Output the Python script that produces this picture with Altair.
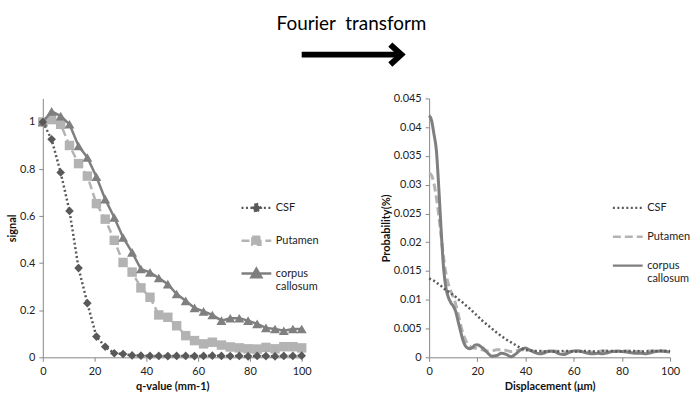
import altair as alt
import pandas as pd

# ---------------- data ----------------
series_names = ["CSF", "Putamen", "corpus callosum"]

# left panel: signal vs q-value
q_values = [0, 3.4, 6.9, 10.3, 13.8, 17.2, 20.7, 24.1, 27.6, 31.0, 34.5, 37.9, 41.4, 44.8, 48.3,
            51.7, 55.2, 58.6, 62.1, 65.5, 69.0, 72.4, 75.9, 79.3, 82.8, 86.2, 89.7, 93.1, 96.6, 100]
csf_signal = [1.0, 0.926, 0.785, 0.622, 0.379, 0.23, 0.088, 0.045, 0.017, 0.014, 0.008, 0.007, 0.006, 0.006, 0.005,
              0.006, 0.006, 0.005, 0.006, 0.007, 0.006, 0.005, 0.006, 0.004, 0.006, 0.005, 0.004, 0.006, 0.006, 0.007]
putamen_signal = [1.0, 1.01, 0.99, 0.90, 0.823, 0.77, 0.653, 0.587, 0.497, 0.403, 0.362, 0.295, 0.255, 0.18, 0.17,
                  0.134, 0.092, 0.071, 0.057, 0.064, 0.052, 0.044, 0.04, 0.036, 0.035, 0.042, 0.036, 0.045, 0.045, 0.04]
callosum_signal = [1.0, 1.045, 1.025, 0.99, 0.898, 0.849, 0.767, 0.672, 0.594, 0.509, 0.446, 0.375, 0.361, 0.337, 0.311,
                   0.269, 0.24, 0.21, 0.195, 0.18, 0.156, 0.166, 0.166, 0.156, 0.142, 0.125, 0.12, 0.113, 0.12, 0.12]

# right panel: probability vs displacement
displacement = [0, 1, 2, 3, 4, 5, 6, 7, 8, 9, 10, 11, 12, 13, 14, 15, 16, 17, 18, 19, 20,
                22, 24, 26, 28, 30, 32, 34, 36, 38, 40, 42, 44, 46, 48, 50, 52, 54, 56, 58, 60,
                62, 64, 66, 68, 70, 72, 74, 76, 78, 80, 82, 84, 86, 88, 90, 92, 94, 96, 98, 100]
csf_prob = [0.0137, 0.0135, 0.0133, 0.0130, 0.0127, 0.0124, 0.0120, 0.0117, 0.0114, 0.0111, 0.0108,
            0.0105, 0.0101, 0.0098, 0.0095, 0.0091, 0.0088, 0.0084, 0.0080, 0.0076, 0.0072,
            0.0064, 0.0057, 0.0050, 0.0043, 0.0037, 0.0031, 0.0026, 0.0021, 0.0016, 0.0013,
            0.0012, 0.0011, 0.0011, 0.0010, 0.0010, 0.0010, 0.0010, 0.0011, 0.0011, 0.0010,
            0.0010, 0.0011, 0.0011, 0.0010, 0.0010, 0.0011, 0.0011, 0.0011, 0.0010, 0.0010,
            0.0011, 0.0011, 0.0011, 0.0010, 0.0010, 0.0011, 0.0011, 0.0011, 0.0011, 0.0011]
putamen_prob = [0.0320, 0.0316, 0.0302, 0.0278, 0.0247, 0.0210, 0.0173, 0.0145, 0.0127, 0.0115, 0.0105,
                0.0093, 0.0076, 0.0058, 0.0042, 0.0031, 0.0023, 0.0019, 0.0017, 0.0016, 0.0015,
                0.0013, 0.0011, 0.0011, 0.0013, 0.0013, 0.0012, 0.0010, 0.0011, 0.0013, 0.0013,
                0.0012, 0.0010, 0.0009, 0.0010, 0.0011, 0.0011, 0.0010, 0.0009, 0.0010, 0.0011,
                0.0011, 0.0010, 0.0009, 0.0009, 0.0010, 0.0011, 0.0011, 0.0010, 0.0010, 0.0011,
                0.0011, 0.0010, 0.0010, 0.0010, 0.0011, 0.0011, 0.0012, 0.0011, 0.0011, 0.0011]
callosum_prob = [0.0420, 0.0412, 0.0388, 0.0360, 0.0295, 0.0220, 0.0155, 0.0120, 0.0104, 0.0095, 0.0089,
                 0.0080, 0.0063, 0.0046, 0.0030, 0.0020, 0.0016, 0.0015, 0.0017, 0.0021, 0.0022,
                 0.0017, 0.0009, 0.0002, 0.0003, 0.0007, 0.0005, 0.0001, 0.0006, 0.0013, 0.0016,
                 0.0012, 0.0008, 0.0006, 0.0008, 0.0011, 0.0010, 0.0006, 0.0005, 0.0008, 0.0011,
                 0.0011, 0.0009, 0.0007, 0.0006, 0.0007, 0.0006, 0.0008, 0.0010, 0.0011, 0.0010,
                 0.0009, 0.0008, 0.0007, 0.0007, 0.0006, 0.0008, 0.0010, 0.0011, 0.0010, 0.0009]

left_ticks_x = [0, 20, 40, 60, 80, 100]
left_ticks_y = [0, 0.2, 0.4, 0.6, 0.8, 1.0]
right_ticks_y = [0, 0.005, 0.01, 0.015, 0.02, 0.025, 0.03, 0.035, 0.04, 0.045]
title_text = ["Fourier\u00a0 transform"]

# ---------------- styles ----------------
FONT = "Lato"
colors = ["#595959", "#b3b3b3", "#7f7f7f"]
dashes = [[2, 2.5], [8, 4], [1, 0]]
marker_shapes = ["diamond", "square", "triangle-up"]
marker_sizes = [75, 90, 100]
# legend symbols (unit = 17 px): a line with the marker, lifted to match alphabetic-baseline labels
left_legend_shapes = [
    "M-0.88,-0.21H0.88M0,-0.47L0.26,-0.21L0,0.05L-0.26,-0.21Z",
    "M-0.88,-0.21H0.88M-0.24,-0.45H0.24V0.03H-0.24Z",
    "M-0.88,-0.21H0.88M0,-0.5L0.29,0.01H-0.29Z",
]
right_legend_shapes = ["M-0.88,-0.21H0.88", "M-0.88,-0.21H0.88", "M-0.88,-0.21H0.88"]
label_expr = "datum.label == 'corpus callosum' ? ['corpus', 'callosum'] : datum.label"

for a, b in [(q_values, csf_signal), (q_values, putamen_signal), (q_values, callosum_signal),
             (displacement, csf_prob), (displacement, putamen_prob), (displacement, callosum_prob)]:
    assert len(a) == len(b)

df_left = pd.concat([pd.DataFrame({"x": q_values, "value": v, "series": n})
                     for n, v in zip(series_names, [csf_signal, putamen_signal, callosum_signal])])
df_right = pd.concat([pd.DataFrame({"x": displacement, "value": v, "series": n})
                      for n, v in zip(series_names, [csf_prob, putamen_prob, callosum_prob])])


def make_legend(lx, ly):
    return alt.Legend(orient="none", legendX=lx, legendY=ly, title=None, padding=0,
                      symbolSize=1156, symbolStrokeWidth=2.5, symbolOpacity=1,
                      labelFont=FONT, labelFontSize=11, labelColor="#222222",
                      labelBaseline="alphabetic", labelOffset=1, rowPadding=8,
                      labelExpr=label_expr)


def legend_layer(df, xenc, yenc, shapes, lx, ly):
    leg = make_legend(lx, ly)
    return alt.Chart(df).mark_point(filled=True, opacity=0).encode(
        x=xenc, y=yenc,
        fill=alt.Fill("series:N", scale=alt.Scale(domain=series_names, range=colors), legend=leg),
        stroke=alt.Stroke("series:N", scale=alt.Scale(domain=series_names, range=colors), legend=leg),
        shape=alt.Shape("series:N", scale=alt.Scale(domain=series_names, range=shapes), legend=leg),
        strokeDash=alt.StrokeDash("series:N", scale=alt.Scale(domain=series_names, range=dashes), legend=leg),
    )


# ---------------- left panel ----------------
xl = alt.X("x:Q", scale=alt.Scale(domain=[0, 100], nice=False, zero=False),
           axis=alt.Axis(values=left_ticks_x, title="q-value (mm-1)", titlePadding=4))
yl = alt.Y("value:Q", scale=alt.Scale(domain=[0, 1.1], nice=False),
           axis=alt.Axis(values=left_ticks_y, format="~g", title="signal"))

left_layers = []
for i in [1, 2, 0]:
    name = series_names[i]
    base = alt.Chart(df_left).transform_filter(alt.datum.series == name)
    kw = {} if i == 2 else {"strokeDash": dashes[i]}
    left_layers.append(base.mark_line(color=colors[i], strokeWidth=2.5, **kw).encode(x=xl, y=yl))
    left_layers.append(base.mark_point(shape=marker_shapes[i], filled=True, color=colors[i],
                                       size=marker_sizes[i], opacity=1).encode(x=xl, y=yl))
left_layers.append(legend_layer(df_left, xl, yl, left_legend_shapes, 196, 95))

# annotation: title + arrow (above both panels)
ann = alt.Chart(pd.DataFrame({"label": title_text}))
left_layers.append(ann.mark_text(font=FONT, fontSize=19, color="black", align="center",
                                 baseline="middle").encode(text="label:N", x=alt.value(310), y=alt.value(-75)))
left_layers.append(ann.mark_rule(color="black", strokeWidth=6).encode(
    x=alt.value(260), x2=alt.value(358), y=alt.value(-44)))
left_layers.append(ann.mark_point(shape="M-1.1,-1L0,0L-1.1,1", filled=False, color="black", strokeWidth=6,
                                  size=400, opacity=1).encode(x=alt.value(360), y=alt.value(-44)))

left = alt.layer(*left_layers).properties(width=260, height=260)

# ---------------- right panel ----------------
xr = alt.X("x:Q", scale=alt.Scale(domain=[0, 100], nice=False, zero=False),
           axis=alt.Axis(values=left_ticks_x, title="Displacement (\u03bcm)", titlePadding=4))
yr = alt.Y("value:Q", scale=alt.Scale(domain=[0, 0.045], nice=False),
           axis=alt.Axis(values=right_ticks_y, format="~g", title="Probability(%)"))

right_layers = []
for i in [1, 2, 0]:
    name = series_names[i]
    base = alt.Chart(df_right).transform_filter(alt.datum.series == name)
    kw = {} if i == 2 else {"strokeDash": dashes[i]}
    right_layers.append(base.mark_line(color=colors[i], strokeWidth=3 if i != 0 else 2.5,
                                       interpolate="monotone", **kw).encode(x=xr, y=yr))
right_layers.append(legend_layer(df_right, xr, yr, right_legend_shapes, 181, 95))

right = alt.layer(*right_layers).properties(width=242, height=260)

chart = (
    alt.hconcat(left, right, spacing=128, bounds="flush")
    .resolve_scale(fill="independent", stroke="independent", shape="independent", strokeDash="independent")
    .resolve_legend(fill="independent", stroke="independent", shape="independent", strokeDash="independent")
    .properties(padding={"left": 6, "top": 14, "right": 0, "bottom": 0}, background="white")
    .configure_view(stroke=None)
    .configure_axis(domainColor="#868686", tickColor="#868686", tickSize=4, grid=False,
                    labelFont=FONT, labelFontSize=11, labelColor="#222222", labelPadding=4,
                    labelFlush=False, labelOverlap=False,
                    titleFont=FONT, titleFontSize=11, titleFontWeight="bold", titleColor="#111111",
                    titlePadding=2)
)

chart.save("out.html", embed_options={"renderer": "svg", "actions": False})
